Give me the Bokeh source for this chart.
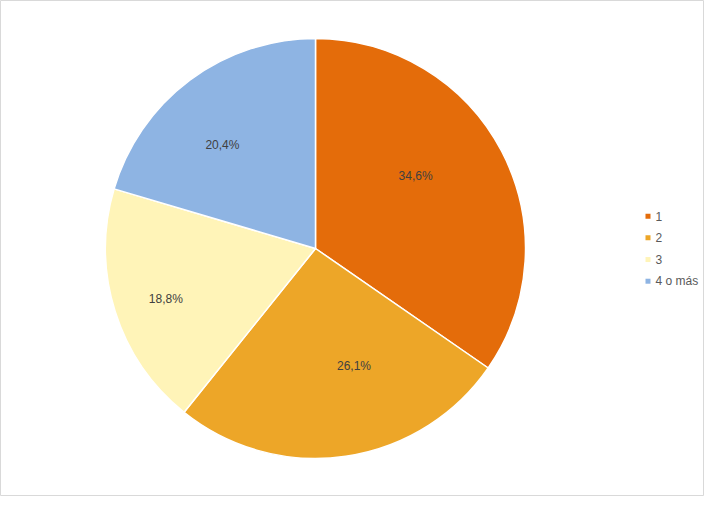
import numpy as np
from bokeh.plotting import figure
from bokeh.models import ColumnDataSource, Range1d
from bokeh.core.properties import value
from bokeh.embed import file_html
from bokeh.resources import INLINE

# datos
categorias = ["1", "2", "3", "4 o más"]
porcentajes = [34.6, 26.1, 18.8, 20.4]
etiquetas = ["34,6%", "26,1%", "18,8%", "20,4%"]
colores = ["#E46C0A", "#EDA628", "#FFF4B8", "#8EB4E3"]

# disposición
W, H = 704, 496
CX, CY, R = 315, 248, 210
lab_r = [0.588, 0.587, 0.753, 0.664]      # distancia de la etiqueta (fracción de R)
lab_giro = [8.2, 9.9, 1.4, 5.1]           # giro de la etiqueta respecto al centro de la porción (grados)

frac = np.array(porcentajes) / sum(porcentajes)
fin = np.cumsum(frac)
ini = fin - frac
start = np.pi / 2 - 2 * np.pi * ini
end = np.pi / 2 - 2 * np.pi * fin
mid = (start + end) / 2 + np.radians(lab_giro)
rr = np.array(lab_r) * R

src = ColumnDataSource(dict(
    cat=categorias, pct=porcentajes, lab=etiquetas, color=colores,
    start=start, end=end,
    lx=CX + rr * np.cos(mid), ly=CY + rr * np.sin(mid),
))

p = figure(width=W, height=H, output_backend="svg", toolbar_location=None,
           x_range=Range1d(0, W), y_range=Range1d(0, H),
           min_border=0)
p.axis.visible = False
p.grid.visible = False
p.outline_line_color = "#D9D9D9"
p.background_fill_color = "white"

p.wedge(x=CX, y=CY, radius=R, start_angle="start", end_angle="end",
        direction="clock", fill_color="color", line_color="white",
        line_width=1.5, source=src)

p.text(x="lx", y="ly", text="lab", source=src, text_align="center",
       text_baseline="middle", text_font=value("Liberation Sans"),
       text_font_size="12px", text_color="#404040")

# leyenda
ley = ColumnDataSource(dict(
    x=[647.5] * 4, y=[H - (215.7 + 21.67 * i) for i in range(4)],
    tx=[655] * 4, cat=categorias, color=colores,
))
p.scatter(x="x", y="y", source=ley, marker="square", size=5,
          fill_color="color", line_color=None)
p.text(x="tx", y="y", text="cat", source=ley, text_align="left",
       text_baseline="middle", text_font=value("Liberation Sans"),
       text_font_size="12px", text_color="#595959")

open("out.html", "w").write(file_html(p, INLINE))
